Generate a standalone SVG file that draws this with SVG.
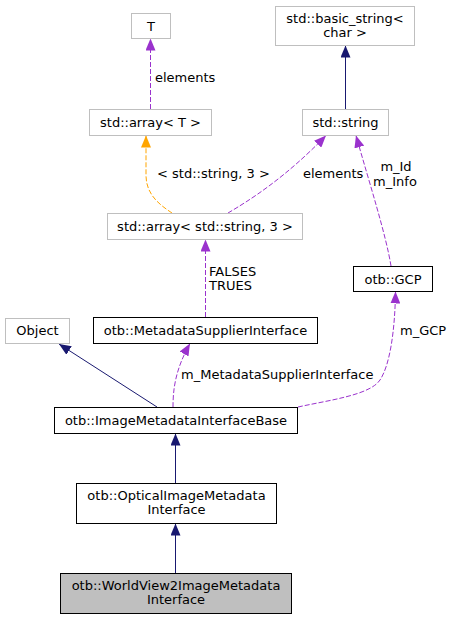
<svg xmlns="http://www.w3.org/2000/svg" width="453" height="620" viewBox="0 0 453 620">
<style>
text{font-family:"DejaVu Sans","Liberation Sans",sans-serif;font-size:13px;fill:#000}
.c{text-anchor:middle}
.g{fill:#fff;stroke:#bfbfbf;stroke-width:1}
.b{fill:#fff;stroke:#000;stroke-width:1}
.sel{fill:#bfbfbf;stroke:#000;stroke-width:1}
.n{fill:none;stroke:#191970;stroke-width:1}
.p{fill:none;stroke:#9a32cd;stroke-width:1;stroke-dasharray:5,2}
.o{fill:none;stroke:#ffa500;stroke-width:1;stroke-dasharray:5,2}
</style>
<defs>
<marker id="an" viewBox="0 0 12 10" refX="12" refY="5" markerWidth="12" markerHeight="10" markerUnits="userSpaceOnUse" orient="auto"><path d="M0,0L12,5L0,10z" fill="#191970"/></marker>
<marker id="ap" viewBox="0 0 12 10" refX="12" refY="5" markerWidth="12" markerHeight="10" markerUnits="userSpaceOnUse" orient="auto"><path d="M0,0L12,5L0,10z" fill="#9a32cd"/></marker>
<marker id="ao" viewBox="0 0 12 10" refX="12" refY="5" markerWidth="12" markerHeight="10" markerUnits="userSpaceOnUse" orient="auto"><path d="M0,0L12,5L0,10z" fill="#ffa500"/></marker>
</defs>
<g id="connectors">
<path class="p" d="M150.5,109 L150.5,38.5" marker-end="url(#ap)"/>
<text x="155" y="81.5">elements</text>
<path class="n" d="M345.5,109 L345.5,45.5" marker-end="url(#an)"/>
<path class="o" d="M172,213 C160,205 146,195 146,175 L146,135.5" marker-end="url(#ao)"/>
<text x="157" y="178">&lt; std::string, 3 &gt;</text>
<path class="p" d="M228,213 C250,200 285,178 326,135.5" marker-end="url(#ap)"/>
<text x="303" y="178">elements</text>
<path class="p" d="M391,266 C386,235 370,185 356,135.5" marker-end="url(#ap)"/>
<text class="c" x="396" y="171">m_Id</text>
<text class="c" x="395" y="185.5">m_Info</text>
<path class="p" d="M205.5,317 L205.5,239.5" marker-end="url(#ap)"/>
<text x="209" y="275.5">FALSES</text>
<text x="209" y="289.5">TRUES</text>
<path class="n" d="M157,407 L59,344" marker-end="url(#an)"/>
<path class="p" d="M173,407 C173,390 175,370 190,343.5" marker-end="url(#ap)"/>
<text x="181" y="378.5">m_MetadataSupplierInterface</text>
<path class="p" d="M298,407 C330,400 370,395 380,380 C390,365 395,330 395.5,291.5" marker-end="url(#ap)"/>
<text x="400" y="334.5">m_GCP</text>
<path class="n" d="M175.5,483 L175.5,433.5" marker-end="url(#an)"/>
<path class="n" d="M175.5,573 L175.5,523.5" marker-end="url(#an)"/>
</g>
<g id="node-T"><rect class="g" x="131.5" y="13.5" width="39" height="25"/><text class="c" x="151" y="30.5">T</text></g>
<g id="node-basic_string"><rect class="g" x="275.5" y="6.5" width="139" height="39"/><text class="c" x="345" y="22.5">std::basic_string&lt;</text><text class="c" x="345" y="36.5">char &gt;</text></g>
<g id="node-array-T"><rect class="g" x="89.5" y="109.5" width="122" height="26"/><text class="c" x="150.5" y="127">std::array&lt; T &gt;</text></g>
<g id="node-string"><rect class="g" x="302.5" y="109.5" width="86" height="26"/><text class="c" x="345.5" y="127">std::string</text></g>
<g id="node-array-string"><rect class="g" x="107.5" y="213.5" width="195" height="26"/><text class="c" x="205" y="231">std::array&lt; std::string, 3 &gt;</text></g>
<g id="node-GCP"><rect class="b" x="353.5" y="266.5" width="79" height="25"/><text class="c" x="393" y="283.5">otb::GCP</text></g>
<g id="node-Object"><rect class="g" x="5.5" y="318.5" width="64" height="25"/><text class="c" x="37.5" y="335">Object</text></g>
<g id="node-MSI"><rect class="b" x="93.5" y="317.5" width="224" height="26"/><text class="c" x="205.5" y="335">otb::MetadataSupplierInterface</text></g>
<g id="node-IMIB"><rect class="b" x="54.5" y="407.5" width="243" height="26"/><text class="c" x="176" y="425">otb::ImageMetadataInterfaceBase</text></g>
<g id="node-Optical"><rect class="b" x="76.5" y="483.5" width="200" height="40"/><text class="c" x="176.5" y="500">otb::OpticalImageMetadata</text><text class="c" x="176.5" y="514">Interface</text></g>
<g id="node-WV2"><rect class="sel" x="60.5" y="573.5" width="231" height="40"/><text class="c" x="176" y="590">otb::WorldView2ImageMetadata</text><text class="c" x="176" y="604">Interface</text></g>
</svg>
